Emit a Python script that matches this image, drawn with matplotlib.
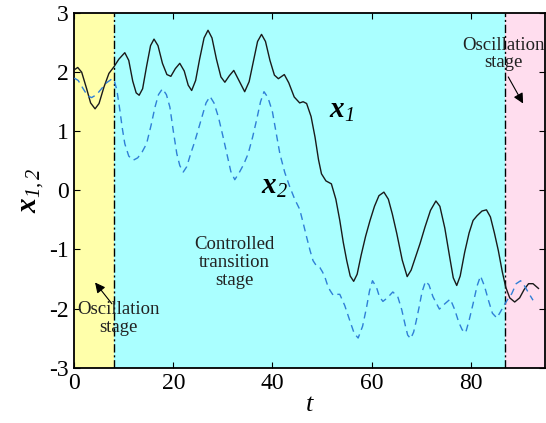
import matplotlib
matplotlib.use("Agg")
import matplotlib.pyplot as plt

plt.rcParams['font.family'] = ['Liberation Serif', 'DejaVu Serif']
plt.rcParams['axes.unicode_minus'] = False
plt.rcParams['mathtext.fontset'] = 'custom'
plt.rcParams['mathtext.rm'] = 'Liberation Serif:italic'
plt.rcParams['mathtext.it'] = 'Liberation Serif:italic'
plt.rcParams['mathtext.bf'] = 'Liberation Serif:italic:bold'

# ---- data ----
t_x1 = [0.0, 0.7, 1.5, 2.5, 3.3, 4.2, 5.0, 6.0, 7.0, 8.0, 9.0, 10.2, 11.0, 11.8, 12.5,
        13.1, 13.8, 14.6, 15.4, 16.1, 16.9, 17.8, 18.7, 19.5, 20.4, 21.3, 22.2, 23.0,
        23.7, 24.5, 25.3, 26.2, 27.0, 27.8, 28.7, 29.6, 30.4, 31.3, 32.2, 33.3, 34.4,
        35.3, 36.2, 37.0, 37.8, 38.6, 39.5, 40.4, 41.2, 42.4, 43.3, 44.4, 45.5, 46.2,
        46.9, 47.8, 48.6, 49.3, 49.9, 50.8, 51.9, 52.8, 53.6, 54.3, 55.0, 55.7, 56.4,
        57.1, 57.9, 58.8, 59.7, 60.6, 61.5, 62.5, 63.4, 64.2, 65.1, 66.2, 67.2, 68.0,
        68.8, 69.8, 70.8, 71.9, 73.0, 73.8, 74.8, 75.8, 76.5, 77.2, 77.9, 78.8, 79.7,
        80.5, 81.3, 82.3, 83.2, 84.0, 84.8, 85.6, 86.4, 87.1, 87.9, 88.9, 89.9, 90.8,
        91.7, 92.6, 93.7]
x1 = [2.04, 2.08, 2.00, 1.72, 1.48, 1.38, 1.47, 1.75, 1.98, 2.09, 2.22, 2.33, 2.20, 1.85, 1.65,
      1.61, 1.72, 2.10, 2.45, 2.56, 2.45, 2.15, 1.96, 1.93, 2.06, 2.15, 2.02, 1.78,
      1.69, 1.86, 2.22, 2.58, 2.71, 2.58, 2.22, 1.92, 1.83, 1.94, 2.03, 1.85, 1.67,
      1.84, 2.20, 2.52, 2.64, 2.52, 2.20, 1.95, 1.89, 1.96, 1.82, 1.58, 1.48, 1.50,
      1.47, 1.25, 0.90, 0.52, 0.28, 0.16, 0.11, -0.15, -0.51, -0.88, -1.19, -1.45, -1.54,
      -1.42, -1.10, -0.78, -0.51, -0.27, -0.09, -0.03, -0.15, -0.40, -0.73, -1.18, -1.46, -1.35,
      -1.15, -0.90, -0.62, -0.34, -0.18, -0.27, -0.64, -1.14, -1.48, -1.61, -1.45, -1.05, -0.72,
      -0.51, -0.43, -0.35, -0.33, -0.45, -0.72, -1.02, -1.38, -1.64, -1.82, -1.89, -1.82, -1.68,
      -1.58, -1.58, -1.66]

t_x2 = [0.0, 0.8, 1.8, 2.7, 3.5, 4.5, 5.5, 6.5, 7.5, 8.0, 8.6, 9.2, 9.7, 10.2, 11.0, 11.9,
        12.8, 13.7, 14.6, 15.5, 16.3, 17.0, 17.8, 18.6, 19.3, 20.0, 20.7, 21.3, 22.0,
        22.7, 23.5, 24.3, 25.0, 25.8, 26.6, 27.4, 28.2, 29.1, 30.0, 30.8, 31.6, 32.4,
        33.3, 34.2, 35.1, 36.0, 36.8, 37.6, 38.3, 39.1, 40.0, 40.8, 41.5, 42.5, 43.5,
        44.5, 45.5, 46.2, 46.9, 47.6, 48.2, 48.9, 49.6, 50.1, 50.6, 51.1, 51.6, 52.3,
        53.0, 53.6, 54.6, 55.6, 56.5, 57.3, 58.2, 59.0, 59.6, 60.2, 61.0, 61.6, 62.3,
        63.2, 64.3, 65.3, 66.1, 66.8, 67.3, 67.9, 68.5, 69.0, 69.6, 70.2, 70.9, 71.6,
        72.4, 73.7, 74.8, 75.9, 76.8, 77.6, 78.3, 79.0, 79.7, 80.5, 81.3, 82.0, 82.8,
        83.6, 84.4, 85.3, 86.0, 86.8, 87.6, 88.3, 89.2, 90.1, 90.9, 91.8, 92.6]
x2 = [1.90, 1.86, 1.72, 1.60, 1.57, 1.62, 1.72, 1.82, 1.88, 1.88, 1.70, 1.36, 1.05, 0.79, 0.58, 0.51,
      0.55, 0.65, 0.79, 1.10, 1.41, 1.62, 1.72, 1.62, 1.41, 1.00, 0.62, 0.42, 0.31,
      0.40, 0.62, 0.82, 1.02, 1.25, 1.48, 1.59, 1.48, 1.24, 0.92, 0.62, 0.32, 0.18,
      0.30, 0.44, 0.62, 0.90, 1.19, 1.50, 1.67, 1.57, 1.33, 0.95, 0.62, 0.30, 0.06,
      -0.15, -0.32, -0.55, -0.79, -1.02, -1.19, -1.28, -1.31, -1.38, -1.47, -1.60, -1.69, -1.78,
      -1.76, -1.76, -1.95, -2.20, -2.42, -2.50, -2.30, -1.98, -1.70, -1.53, -1.64, -1.80, -1.88,
      -1.82, -1.72, -1.80, -2.02, -2.28, -2.45, -2.51, -2.40, -2.22, -1.98, -1.72, -1.54, -1.60,
      -1.80, -2.01, -1.92, -1.84, -2.02, -2.23, -2.36, -2.41, -2.20, -1.92, -1.62, -1.45, -1.62,
      -1.86, -2.08, -2.16, -2.06, -1.94, -1.83, -1.75, -1.58, -1.53, -1.62, -1.75, -1.86]

stage_bounds = [0, 8, 87, 95]
stage_colors = ['#FFFFAA', '#AAFFFF', '#FFDDEE']
xticks = [0, 20, 40, 60, 80]
yticks = [-3, -2, -1, 0, 1, 2, 3]

fig = plt.figure(figsize=(5.46, 4.23), dpi=100)
ax = fig.add_axes([0.136, 0.131, 0.862, 0.838])

for i, c in enumerate(stage_colors):
    ax.axvspan(stage_bounds[i], stage_bounds[i + 1], color=c, lw=0, zorder=0)
for b in stage_bounds[1:3]:
    ax.axvline(b, color='k', lw=1.0, ls=(0, (6, 2, 1.5, 2)), zorder=2)

ax.plot(t_x1, x1, color='#1a1a1a', lw=1.0, zorder=3)
ax.plot(t_x2, x2, color='#2f7fd6', lw=1.0, ls=(0, (5, 3.5)), zorder=3)

ax.set_xlim(0, 95)
ax.set_ylim(-3, 3)
ax.set_xticks(xticks)
ax.set_yticks(yticks)
ax.tick_params(direction='in', length=4, width=0.8, labelsize=17,
               top=True, right=True, pad=4)
for s in ax.spines.values():
    s.set_linewidth(1.3)

ax.set_xlabel(r'$t$', fontsize=19, labelpad=0)
ax.set_ylabel(r'$\mathbf{x}_{1,2}$', fontsize=21, labelpad=2)

ax.text(51.4, 1.22, r'$\mathbf{x}_{1}$', fontsize=21, zorder=4)
ax.text(37.6, -0.05, r'$\mathbf{x}_{2}$', fontsize=21, zorder=4)

ax.text(32.4, -1.22, 'Controlled\ntransition\nstage', ha='center', va='center',
        fontsize=13.5, linespacing=1.05, color='#222222', zorder=4)
ax.text(8.9, -2.17, 'Oscillation\nstage', ha='center', va='center',
        fontsize=13.5, linespacing=1.05, color='#222222', zorder=4)
ax.text(86.7, 2.31, 'Oscillation\nstage', ha='center', va='center',
        fontsize=13.5, linespacing=1.05, color='#222222', zorder=4)

arrow = dict(arrowstyle='-|>', color='k', lw=0.8, mutation_scale=15, shrinkA=0, shrinkB=0)
ax.annotate('', xy=(4.2, -1.56), xytext=(7.6, -1.92), arrowprops=arrow, zorder=5)
ax.annotate('', xy=(90.6, 1.47), xytext=(87.6, 1.92), arrowprops=arrow, zorder=5)

fig.savefig('out.png', dpi=100)
